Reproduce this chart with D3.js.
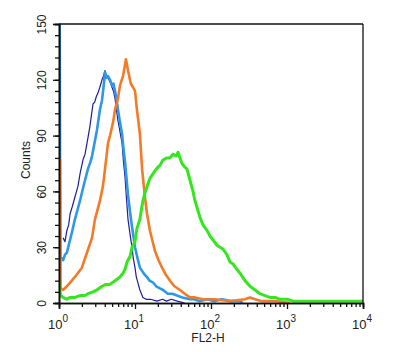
<!DOCTYPE html>
<html><head><meta charset="utf-8">
<script src="https://cdn.jsdelivr.net/npm/d3@7"></script>
<style>body{margin:0;background:#fff;} svg{display:block;}</style>
</head><body><svg id="c" width="400" height="352"></svg>
<script>
// ---- data ----
const yTicks = [0, 30, 60, 90, 120, 150];
const xDecades = [0, 1, 2, 3, 4];
const xLabel = "FL2-H";
const yLabel = "Counts";

const navyX = [1.13,1.2,1.27,1.34,1.40,1.5,1.62,1.7,1.78,1.9,2.07,2.2,2.41,2.55,2.8,2.95,3.1,3.26,3.45,3.68,3.85,4.03,4.2,4.4,4.69,4.98,5.2,5.46,5.7,5.97,6.35,6.75,7.05,7.38,7.7,8.09,8.6,9.13,9.5,10,10.4,10.9,11.6,12.7,14,16,19.5,23,26,30,36,45];
const navyY = [35,33,39,42,48,52,57,60,63,70,77,80,89,95,107,108,111,113,116,120,122,125,122,121,119,116,114,110,104,98,92,86,76,68,57,45,37,30,24,19,14,11,7,3,2,2,1,2,1,2,1,0];

const blueX = [1,1.02,1.04,1.13,1.2,1.27,1.34,1.40,1.5,1.62,1.75,1.89,2.05,2.2,2.4,2.6,2.72,2.9,3.16,3.46,3.68,3.85,4.03,4.2,4.41,4.69,4.98,5.2,5.46,5.7,5.97,6.35,6.75,7.05,7.38,7.7,8.09,8.6,9.13,9.6,10,10.8,11.6,12.5,13.5,14.4,15.5,17.3,19,21,23.4,27,31,35.7,42,52.9,60,70,90,110,140,180,241,260];
const blueY = [160,160,25,23,26,27,31,34,39,45,50,55,61,66,72,76,79,85,93,104,109,116,124,121,122,120,117,118,114,110,104,97,91,83,76,68,58,49,41,35,30,24,19,17,15,14,12,11,9,8,7,5,5,4,3,2,2,1,2,1,2,1,1,0];

const orangeX = [1,1.03,1.05,1.13,1.27,1.40,1.62,2.0,2.33,2.72,2.97,3.46,3.79,4.03,4.41,4.69,5.14,5.46,5.97,6.35,6.95,7.38,7.6,8.09,8.8,9.4,10,10.6,11.6,12.4,13.5,14.4,15.7,18.3,20.4,22.7,25.6,28.9,33,39.1,45,52.9,61.5,78.5,112,178,280,326,380,465,700,1100];
const orangeY = [77,77,8,7,9,11,14,19,27,35,45,55,63,72,86,90,97,104,110,117,122,128,131,125,118,116,114,104,91,72,57,48,39,28,23,19,15,12,9,7,5,3,3,2,2,1,2,3,2,1,1,0];

const greenX = [1,1.05,1.13,1.27,1.40,1.62,1.89,2.2,2.41,2.8,3.16,3.68,4.15,4.69,5.46,6.35,6.95,7.38,7.85,8.6,9.13,10,10.6,11.6,12.7,13.5,14.8,15.7,18.3,20,21.3,23.4,26.4,28.9,31.6,34.8,36.8,39.1,41.5,45.5,48.3,52.9,58,61.5,67,71.6,78.5,88.6,97,106,120,131,144,162,178,195,220,241,280,326,380,441,512,597,700,809,1000,1199,1480,2000,4000,10000];
const greenY = [11,4,3,2,3,3,4,4,5,6,7,9,10,10,12,14,16,18,22,25,30,33,40,45,55,59,64,67,71,73,74,77,78,78,80,79,81,78,75,73,72,66,60,55,50,46,42,39,36,34,31,30,29,26,22,21,18,16,12,9,7,5,4,3,3,2,2,1,1,1,1,1];

const series = [
  {x: navyX, y: navyY, color: "#1e1e9a", w: 1.2},
  {x: blueX, y: blueY, color: "#2f97e8", w: 2.6},
  {x: orangeX, y: orangeY, color: "#f47a28", w: 2.6},
  {x: greenX, y: greenY, color: "#35e61f", w: 3}
];

// ---- layout ----
const L = 59, R = 363, T = 24, B = 303;
const svg = d3.select("#c");
const x = d3.scaleLog().domain([1, 10000]).range([L, R]);
const y = d3.scaleLinear().domain([0, 150]).range([B, T]);

svg.append("defs").append("clipPath").attr("id", "clip")
  .append("rect").attr("x", L).attr("y", T).attr("width", R - L).attr("height", B - T);

const line = d3.line().x(d => x(d[0])).y(d => y(d[1]));
const g = svg.append("g").attr("clip-path", "url(#clip)");
series.forEach(s => {
  const pts = s.x.map((v, i) => [v, s.y[i]]);
  g.append("path").attr("d", line(pts)).attr("fill", "none")
    .attr("stroke", s.color).attr("stroke-width", s.w).attr("stroke-linejoin", "round");
});

// frame
svg.append("line").attr("x1", L).attr("x2", R).attr("y1", T).attr("y2", T).attr("stroke", "#111").attr("stroke-width", 1.6);
svg.append("line").attr("x1", R).attr("x2", R).attr("y1", T).attr("y2", B).attr("stroke", "#111").attr("stroke-width", 1.3);

// y axis
const yMinor = d3.range(0, 151, 6);
const ya2 = svg.append("g").attr("transform", `translate(${L},0)`)
  .call(d3.axisLeft(y).tickValues(yMinor).tickSize(4).tickFormat(""));
const ya = svg.append("g").attr("transform", `translate(${L},0)`)
  .call(d3.axisLeft(y).tickValues(yTicks).tickSize(6).tickFormat(d3.format("d")));
[ya, ya2].forEach(a => {
  a.select(".domain").attr("stroke", "#111").attr("stroke-width", 1.6);
  a.selectAll(".tick line").attr("stroke", "#111").attr("stroke-width", 1.3);
});
ya.selectAll(".tick text")
  .attr("x", 0).attr("y", 0).attr("dy", 0)
  .attr("transform", "translate(-13,0) rotate(-90)")
  .attr("text-anchor", "middle")
  .style("font-family", "Liberation Sans, Arial, sans-serif").style("font-size", "12px").attr("fill", "#222");

// x axis
const xMinor = [];
xDecades.slice(0, -1).forEach(e => { for (let k = 2; k <= 9; k++) xMinor.push(k * Math.pow(10, e)); });
const xMajor = xDecades.map(e => Math.pow(10, e));
const xa2 = svg.append("g").attr("transform", `translate(0,${B})`)
  .call(d3.axisBottom(x).tickValues(xMinor).tickSize(4).tickFormat(""));
const xa = svg.append("g").attr("transform", `translate(0,${B})`)
  .call(d3.axisBottom(x).tickValues(xMajor).tickSize(6).tickFormat(""));
[xa, xa2].forEach(a => {
  a.select(".domain").attr("stroke", "#111").attr("stroke-width", 1.6);
  a.selectAll(".tick line").attr("stroke", "#111").attr("stroke-width", 1.3);
});
xDecades.forEach(e => {
  const t = svg.append("text").attr("x", x(Math.pow(10, e)) - 1).attr("y", 329)
    .attr("text-anchor", "middle")
    .style("font-family", "Liberation Sans, Arial, sans-serif").attr("fill", "#222");
  t.append("tspan").style("font-size", "13px").text("10");
  t.append("tspan").style("font-size", "10px").attr("dy", -7).text(String(e));
});

// axis titles
svg.append("text").attr("x", 208).attr("y", 342).attr("text-anchor", "middle")
  .style("font-family", "Liberation Sans, Arial, sans-serif").style("font-size", "12px").attr("fill", "#222")
  .text(xLabel);
svg.append("text").attr("transform", "translate(30,160) rotate(-90)").attr("text-anchor", "middle")
  .style("font-family", "Liberation Sans, Arial, sans-serif").style("font-size", "12px").attr("fill", "#222")
  .text(yLabel);
</script></body></html>
